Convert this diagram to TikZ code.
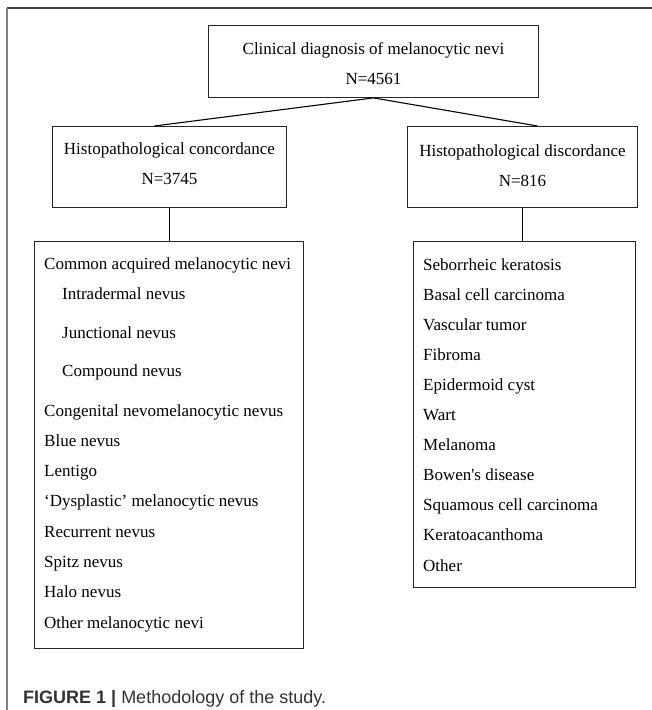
\documentclass[tikz,border=0pt]{standalone}
\usepackage{fontspec}
\setmainfont{Liberation Serif}
\newfontfamily\capfont{Liberation Sans}
\usetikzlibrary{positioning, calc}

\begin{document}
\begin{tikzpicture}[x=1pt, y=-1pt, font=\fontsize{17}{20}\selectfont,
  box/.style={draw=black!85, line width=0.9pt, inner sep=0pt, anchor=north west},
  title/.style={inner sep=0pt, anchor=base},
  item/.style={inner sep=0pt, anchor=base west},
  link/.style={line width=1.1pt, black}]

\useasboundingbox (0,0) rectangle (652,710);

% frame of the figure
\draw[line width=1.4pt, black!75] (7,8) -- (652,8);
\draw[line width=2pt, black!50] (7,8) -- (7,710);

% boxes
\node[box, minimum width=330, minimum height=72] (clin) at (208,25) {};
\node[box, minimum width=234, minimum height=81] (conc) at (52,126) {};
\node[box, minimum width=230, minimum height=81] (disc) at (407,126) {};
\node[box, minimum width=269, minimum height=407] (nevi) at (34,241) {};
\node[box, minimum width=222, minimum height=346] (other) at (413,241) {};

% titles
\node[title] (clin1) at ($(clin.north)+(0,29)$) {Clinical diagnosis of melanocytic nevi};
\node[title] (clin2) at ($(clin.north)+(0,59)$) {N=4561};
\node[title] (conc1) at ($(conc.north)+(0,28)$) {Histopathological concordance};
\node[title] (conc2) at ($(conc.north)+(0,58)$) {N=3745};
\node[title] (disc1) at ($(disc.north)+(0,30)$) {Histopathological discordance};
\node[title] (disc2) at ($(disc.north)+(0,60)$) {N=816};

% connectors
\draw[link] (clin.south) -- ($(conc.north)+(-15,0)$);
\draw[link] (clin.south) -- ($(disc.north)+(15,0)$);
\draw[link] (conc.south) -- (conc.south |- nevi.north);
\draw[link] (disc.south) -- (disc.south |- other.north);

% concordant diagnoses
\foreach \x/\y/\lbl [count=\i] in {44/269/Common acquired melanocytic nevi,
    62/299/Intradermal nevus, 62/338/Junctional nevus, 62/376/Compound nevus,
    44/416/Congenital nevomelanocytic nevus, 44/446/Blue nevus, 44/476/Lentigo,
    44/506/`Dysplastic' melanocytic nevus, 44/537/Recurrent nevus,
    44/567/Spitz nevus, 44/597/Halo nevus, 44/628/Other melanocytic nevi}
  \node[item] (c\i) at (\x,\y) {\lbl};

% discordant diagnoses
\foreach \lbl [count=\i from 0] in {Seborrheic keratosis, Basal cell carcinoma,
    Vascular tumor, Fibroma, Epidermoid cyst, Wart, Melanoma,
    Bowen\textquotesingle s disease, Squamous cell carcinoma, Keratoacanthoma, Other}
  \node[item] (d\i) at (423,270+30.1*\i) {\lbl};

% caption
\node[inner sep=0pt, anchor=base west, text=black!80,
  font=\capfont\fontsize{18}{20}\selectfont] (cap) at (23,703)
  {\textbf{FIGURE 1 |} Methodology of the study.};

\end{tikzpicture}
\end{document}
